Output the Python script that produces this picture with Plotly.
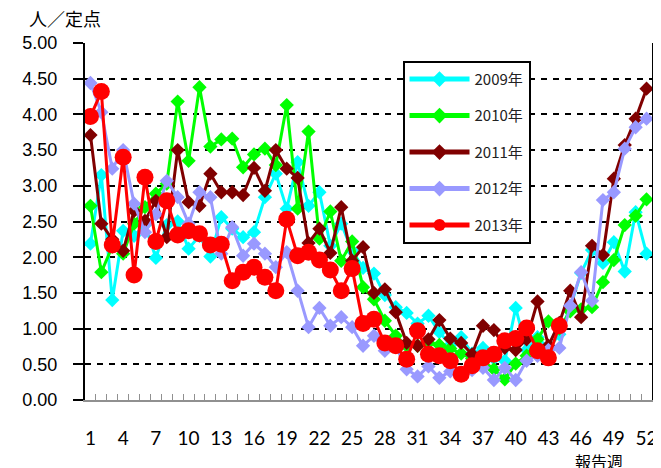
import plotly.graph_objects as go

weeks = list(range(1, 53))
tick_weeks = list(range(1, 53, 3))
tick_labels = [str(w) for w in tick_weeks]

y2009 = [2.19, 3.15, 1.40, 2.37, 2.30, 2.45, 1.99, 2.45, 2.50, 2.12, 2.30, 2.01, 2.56, 2.40, 2.28, 2.35,
         2.84, 3.17, 2.68, 3.33, 2.72, 2.91, 2.16, 2.47, 2.09, 1.85, 1.77, 1.47, 1.30, 1.22, 1.07, 1.18,
         0.95, 0.77, 0.88, 0.65, 0.73, 0.58, 0.55, 1.29, 0.70, 0.88, 0.72, 0.92, 1.30, 1.78, 2.10, 1.92,
         2.21, 1.80, 2.63, 2.05]
y2010 = [2.72, 1.79, 2.15, 2.05, 2.47, 2.70, 2.89, 3.03, 4.18, 3.35, 4.38, 3.55, 3.65, 3.66, 3.26, 3.44,
         3.52, 3.29, 4.13, 2.68, 3.76, 2.26, 2.64, 1.95, 2.22, 1.58, 1.41, 1.11, 0.90, 0.76, 0.76, 0.80,
         0.77, 0.72, 0.65, 0.58, 0.55, 0.43, 0.29, 0.51, 0.62, 0.85, 1.10, 1.00, 1.24, 1.27, 1.30, 1.65,
         1.96, 2.45, 2.58, 2.81]
y2011 = [3.71, 2.47, 2.25, 2.09, 2.65, 2.51, 2.79, 2.28, 3.50, 2.77, 2.72, 3.17, 2.91, 2.91, 2.87, 3.25,
         2.93, 3.50, 3.24, 3.11, 2.20, 2.40, 2.06, 2.70, 1.95, 2.14, 1.50, 1.55, 1.23, 0.80, 0.76, 0.85,
         1.12, 0.86, 0.80, 0.64, 1.04, 0.98, 0.73, 0.70, 0.85, 1.38, 0.76, 1.08, 1.53, 1.16, 2.16, 2.03,
         3.10, 3.57, 3.94, 4.36]
y2012 = [4.44, 4.03, 3.24, 3.50, 2.75, 2.35, 2.60, 3.07, 2.84, 2.47, 2.91, 2.84, 2.05, 2.42, 2.02, 2.19,
         2.05, 1.86, 2.07, 1.53, 1.02, 1.29, 1.04, 1.16, 1.02, 0.76, 0.90, 0.69, 0.75, 0.43, 0.33, 0.47,
         0.31, 0.40, 0.37, 0.42, 0.45, 0.28, 0.45, 0.28, 0.55, 0.62, 0.70, 0.73, 1.32, 1.79, 1.39, 2.80,
         2.91, 3.52, 3.82, 3.94]
y2013 = [3.97, 4.32, 2.17, 3.40, 1.75, 3.12, 2.22, 2.79, 2.31, 2.37, 2.33, 2.17, 2.18, 1.67, 1.79, 1.86,
         1.72, 1.53, 2.53, 2.02, 2.07, 1.96, 1.82, 1.53, 1.84, 1.07, 1.13, 0.80, 0.76, 0.57, 0.97, 0.64,
         0.62, 0.55, 0.36, 0.48, 0.59, 0.64, 0.83, 0.86, 1.01, 0.69, 0.59, 1.04]

series = [
    ("2009年", y2009, "#00FFFF", "diamond", 11),
    ("2010年", y2010, "#00FF00", "diamond", 11),
    ("2011年", y2011, "#800000", "diamond", 11),
    ("2012年", y2012, "#9999FF", "diamond", 11),
    ("2013年", y2013, "#FF0000", "circle", 17),
]

fig = go.Figure()
# invisible helper trace so the category-boundary tick axis is rendered
fig.add_trace(go.Scatter(x=weeks, y=[None] * len(weeks), xaxis="x2", mode="lines",
                         showlegend=False, hoverinfo="skip"))
for name, vals, color, sym, size in series:
    fig.add_trace(go.Scatter(
        x=weeks[:len(vals)], y=vals, name=name, mode="lines+markers",
        line=dict(color=color, width=3),
        marker=dict(color=color, symbol=sym, size=size, line=dict(width=0)),
        legendgroup=name,
    ))

# page body has an 8px margin, so the figure is sized to fit the window
fig.update_layout(
    width=653, height=460,
    margin=dict(l=77, r=9, t=35, b=68),
    plot_bgcolor="white", paper_bgcolor="white",
    showlegend=True,
    legend=dict(
        x=0.56, y=0.95, xanchor="left", yanchor="top",
        bordercolor="black", borderwidth=2, bgcolor="white",
        font=dict(family="Noto Sans CJK JP", size=15, color="#222"),
        tracegroupgap=14, itemwidth=60, itemsizing="constant",
    ),
    xaxis=dict(
        range=[0.5, 52.5], tickmode="array", tickvals=tick_weeks, ticktext=tick_labels,
        ticks="", showgrid=False, zeroline=False,
        showline=True, linecolor="#909090", linewidth=2,
        tickfont=dict(family="Lato", size=19, color="black"),
        ticklabelstandoff=20, automargin=False,
    ),
    xaxis2=dict(
        overlaying="x", side="bottom", anchor="y", range=[0.5, 52.5],
        tickmode="linear", tick0=0.5, dtick=1, ticks="inside", ticklen=6,
        tickcolor="#909090", tickwidth=1, showticklabels=False,
        showgrid=False, zeroline=False, showline=False, automargin=False,
    ),
    yaxis=dict(
        range=[0, 5], dtick=0.5, tickformat=".2f",
        showgrid=True, gridcolor="black", griddash="6px,6px", gridwidth=2,
        zeroline=False, showline=True, linecolor="black", linewidth=2, mirror=True,
        ticks="outside", ticklen=10, tickcolor="black", tickwidth=2,
        tickfont=dict(family="Liberation Sans", size=18, color="black"),
        ticklabelstandoff=12, automargin=False,
    ),
    annotations=[
        dict(text="人／定点", xref="paper", yref="paper", x=-0.102, y=1.028, xanchor="left", yanchor="bottom",
             showarrow=False, font=dict(family="Noto Sans CJK JP", size=18, color="black")),
        dict(text="報告週", xref="paper", yref="paper", x=0.952, y=-0.133, xanchor="right", yanchor="top",
             showarrow=False, font=dict(family="Noto Sans CJK JP", size=16, color="black")),
    ],
)

fig.write_html("out.html")
